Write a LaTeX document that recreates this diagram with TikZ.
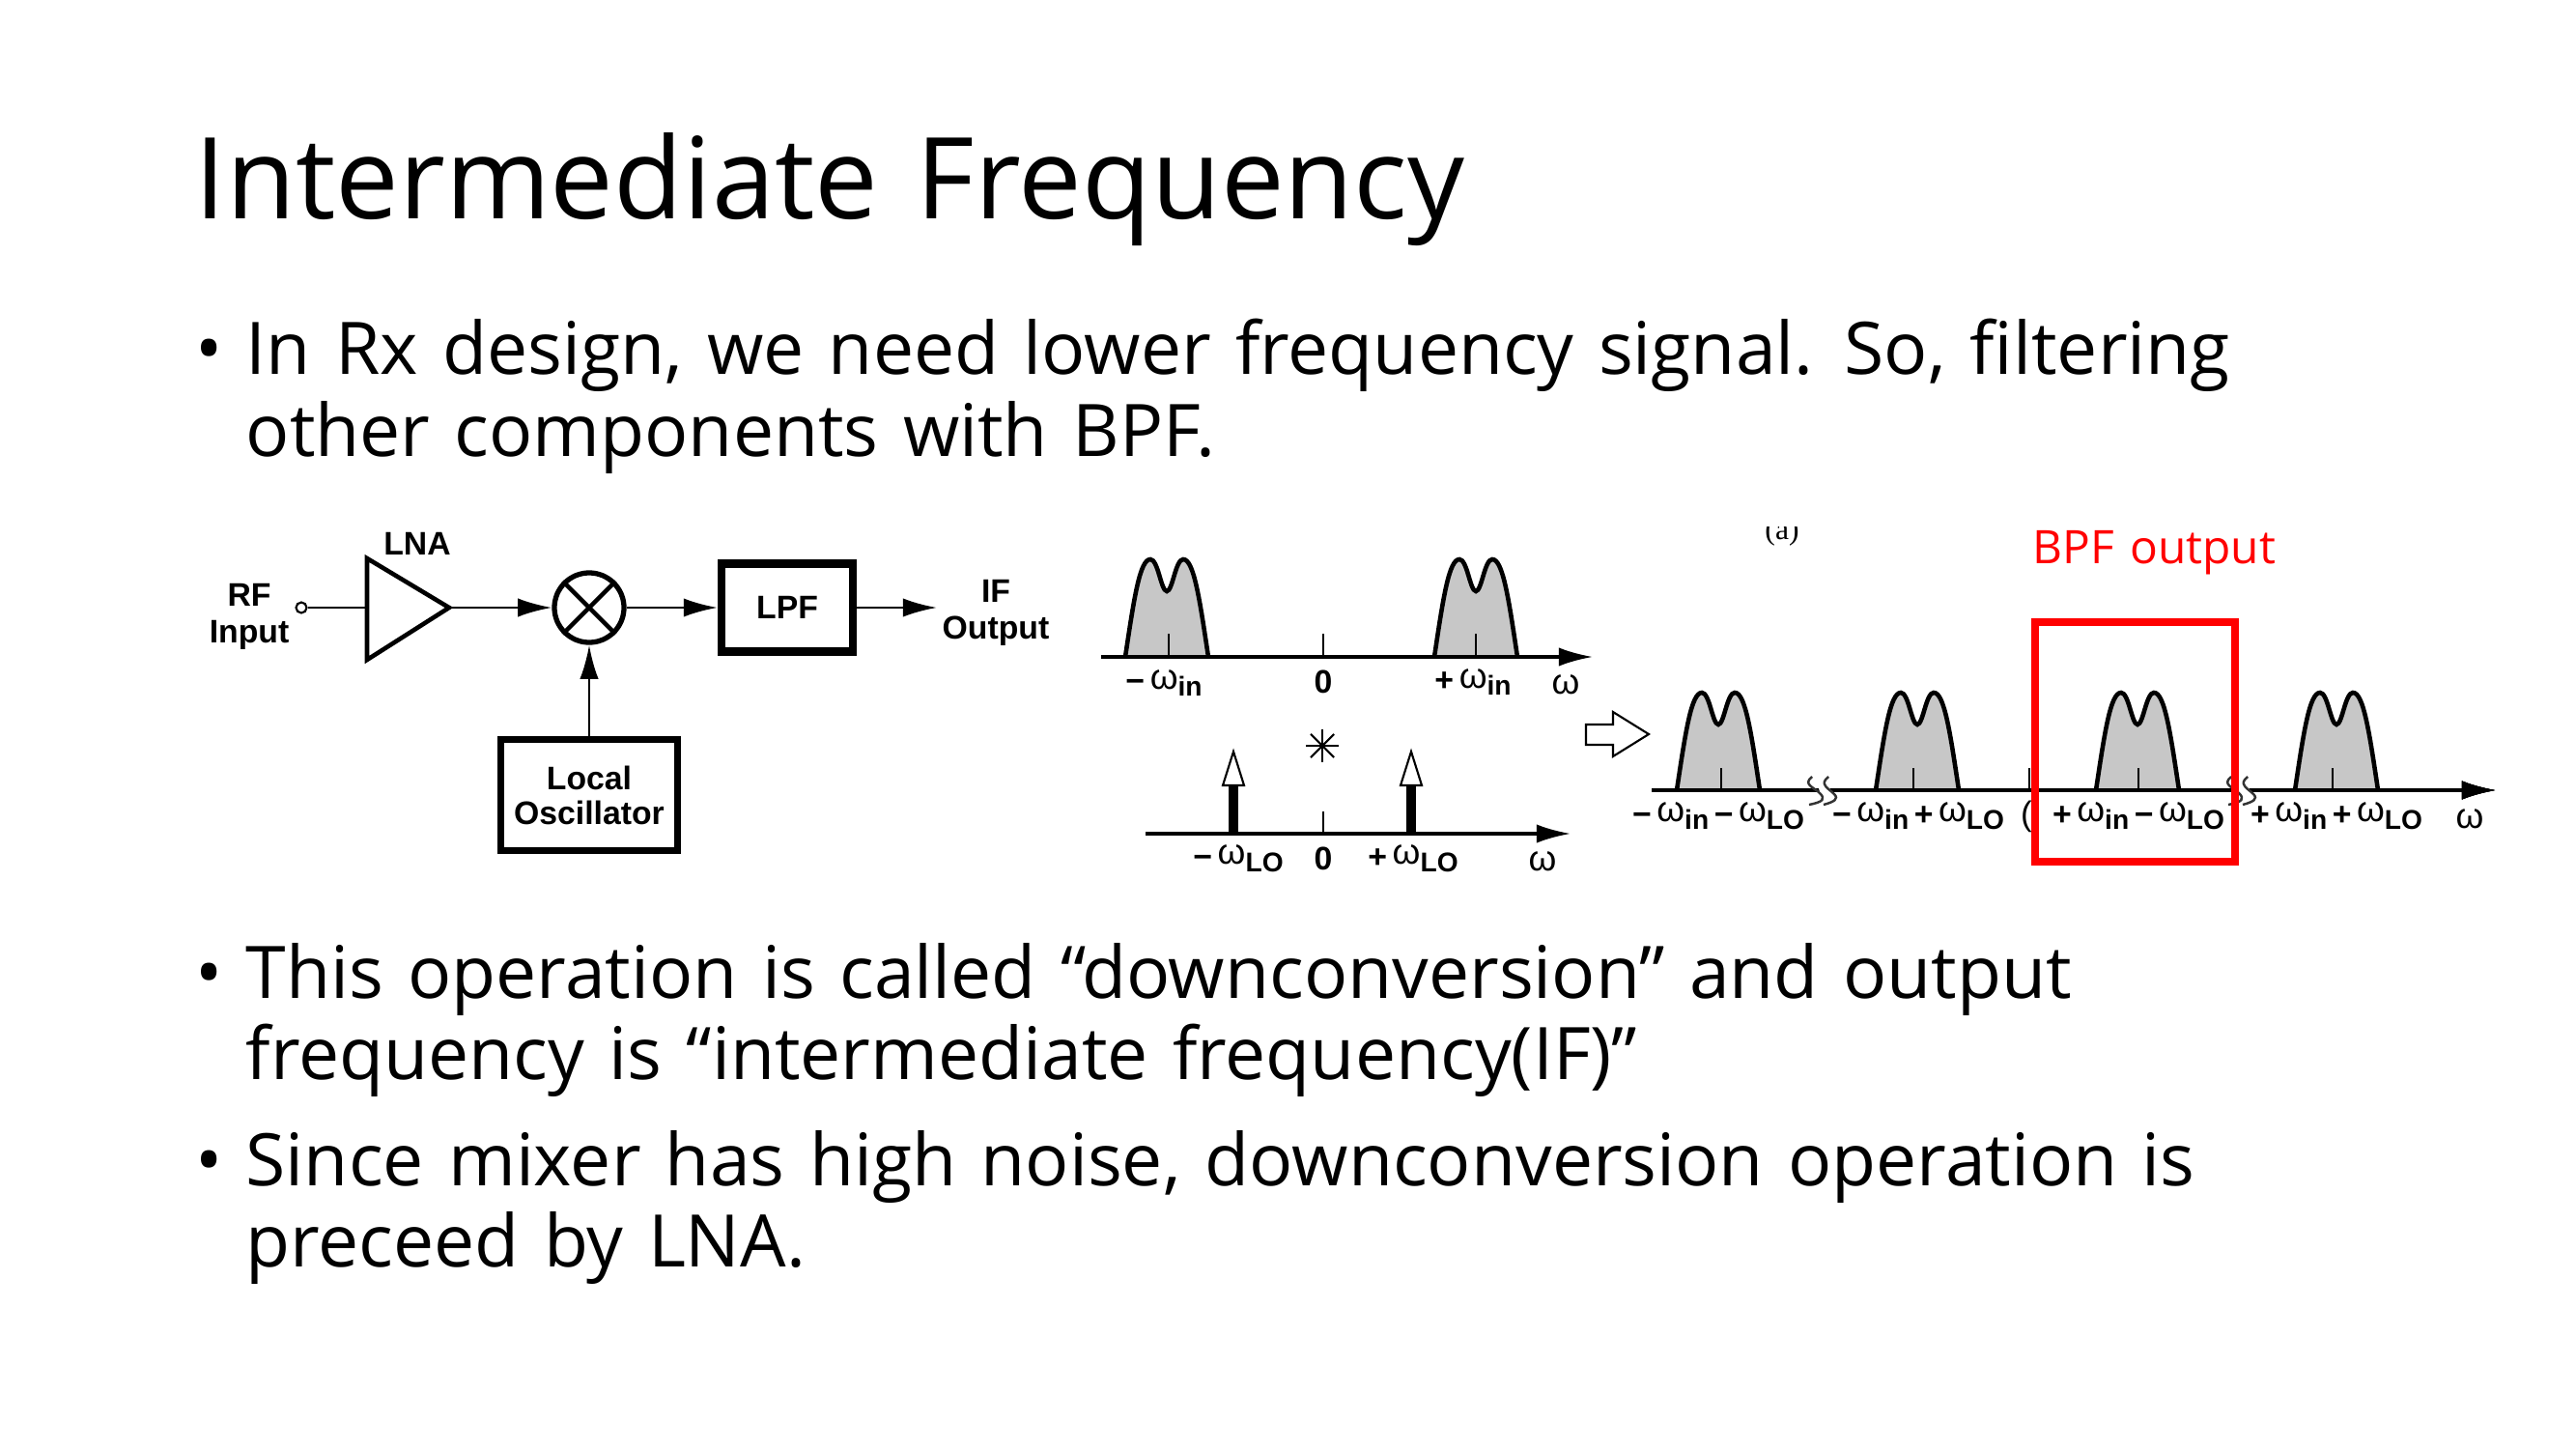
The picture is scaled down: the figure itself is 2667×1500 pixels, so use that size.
\documentclass[tikz,border=0pt]{standalone}
\usepackage{fontspec}
\usetikzlibrary{arrows.meta}
\setmainfont{Liberation Sans}
\newfontfamily\slidefont[WordSpace=1.3]{Open Sans}
\newfontfamily\capfont{Liberation Serif}
\newcommand{\om}{\raisebox{1pt}{\fontsize{10.5}{10.5}\selectfont\mdseries ω}}
\newcommand{\lowsub}[1]{\raisebox{-1.2pt}{\fontsize{8}{8}\selectfont #1}}
\newcommand{\spectrum}[2]{%
  \begin{scope}[shift={(#1,#2)}]
    \draw[specline,fill=specgray] (-43,0) .. controls (-34,-60) and (-28,-101) .. (-17,-101)
      .. controls (-9,-101) and (-6,-68) .. (0,-68) .. controls (6,-68) and (9,-101) .. (17,-101)
      .. controls (28,-101) and (34,-60) .. (43,0);
  \end{scope}}
\newcommand{\breakmark}[2]{%
  \begin{scope}[shift={(#1,#2)}]
    \fill[white] (-2,-6) -- (10,-6) -- (12,6) -- (1,6) -- cycle;
    \draw[breakline] (-8,-14) .. controls (-18,-6) and (-6,-3) .. (0,3) .. controls (6,9) and (4,12) .. (-11,15);
    \draw[breakline] (9,-14) .. controls (-1,-6) and (9,-2) .. (15,4) .. controls (20,9) and (15,12) .. (4,15);
  \end{scope}}
\definecolor{specgray}{gray}{0.78}
\tikzset{
  sigline/.style={line width=0.8pt},
  sigarrow/.style={line width=0.8pt,-{Latex[length=10pt,width=5.5pt]}},
  axisarrow/.style={line width=0.9pt,-{Latex[length=10pt,width=5.5pt]}},
  specline/.style={line width=1.3pt},
  tickline/.style={line width=0.6pt},
  breakline/.style={line width=0.7pt,black!80},
  lbl/.style={inner sep=0pt,font=\fontsize{9.6}{10.8}\selectfont\bfseries,align=center},
  heading/.style={inner sep=0pt,anchor=base west,font=\slidefont\fontsize{33.3}{33.3}\selectfont},
  bodyline/.style={inner sep=0pt,anchor=base west,font=\slidefont\fontsize{21.35}{21.35}\selectfont},
}
\begin{document}
\begin{tikzpicture}[x=0.01cm,y=-0.01cm]
  \useasboundingbox (0,0) rectangle (2667,1500);
  % slide text
  \node[heading] (title) at (201,226) {Intermediate Frequency};
  \node[bodyline] (bulA) at (202,387) {•};
  \node[bodyline] (lineA) at (254,387) {In Rx design, we need lower frequency signal. So, filtering};
  \node[bodyline] (lineB) at (254,472) {other components with BPF.};
  \node[bodyline] (bulB) at (202,1033) {•};
  \node[bodyline] (lineC) at (254,1033) {This operation is called “downconversion” and output};
  \node[bodyline] (lineD) at (254,1117) {frequency is “intermediate frequency(IF)”};
  \node[bodyline] (bulC) at (202,1227) {•};
  \node[bodyline] (lineE) at (254,1227) {Since mixer has high noise, downconversion operation is};
  \node[bodyline] (lineF) at (254,1311) {preceed by LNA.};

  % receiver chain
  \node[lbl] (rflabel) at (258,638) {RF\\Input};
  \node[lbl] (lnalabel) at (432,563) {LNA};
  \node[lbl] (iflabel) at (1031,634) {IF\\Output};
  \node[circle,draw,line width=0.6pt,minimum size=0.11cm,inner sep=0pt] (rfin) at (312,629) {};
  \coordinate (lnaT) at (380,578);
  \coordinate (lnaB) at (380,683);
  \coordinate (lnaI) at (380,629);
  \coordinate (lnaO) at (465,629);
  \draw[line width=1.3pt,line join=miter] (lnaT) -- (lnaO) -- (lnaB) -- cycle;
  \node[circle,draw,line width=1.5pt,minimum size=0.72cm,inner sep=0pt] (mix) at (610,629) {};
  \draw[line width=1.3pt] (mix.45) -- (mix.225) (mix.135) -- (mix.315);
  \node[draw,line width=2.3pt,minimum width=1.36cm,minimum height=0.91cm,inner sep=0pt,font=\fontsize{9.6}{10}\selectfont\bfseries] (lpf) at (815,629) {LPF};
  \node[draw,line width=2pt,minimum width=1.83cm,minimum height=1.14cm,inner sep=0pt,align=center,font=\fontsize{9.6}{10.2}\selectfont\bfseries] (lo) at (610,823) {Local\\Oscillator};
  \coordinate (ifout) at (970,629);
  \draw[sigline] (rfin) -- (lnaI);
  \draw[sigarrow] (lnaO) -- (mix);
  \draw[sigarrow] (mix) -- (lpf);
  \draw[sigarrow] (lpf) -- (ifout);
  \draw[sigarrow] (lo) -- (mix);

  % input spectrum
  \coordinate (axAl) at (1140,680);
  \coordinate (axAr) at (1649,680);
  \spectrum{1208}{680}
  \spectrum{1528}{680}
  \draw[axisarrow] (axAl) -- (axAr);
  \foreach \tx in {1210,1370,1528}
    \draw[tickline] (\tx,656) -- (\tx,680);
  \node[lbl] (inneg) at (1205,707) {−\,\om\lowsub{in}};
  \node[lbl] (zeroA) at (1370,706) {0};
  \node[lbl] (inpos) at (1525,706) {+\,\om\lowsub{in}};
  \node[lbl] (omA) at (1621,710) {\om};

  % convolution star
  \coordinate (conv) at (1369,772);
  \foreach \ang in {0,45,90,135}
    \draw[line width=0.6pt] (conv) ++(\ang:17) -- ++(\ang+180:34);

  % oscillator spectrum
  \coordinate (axBl) at (1186,863);
  \coordinate (axBr) at (1626,863);
  \draw[axisarrow] (axBl) -- (axBr);
  \draw[tickline] (1370,840) -- (1370,863);
  \foreach \tx in {1277,1461} {
    \draw[line width=2.6pt] (\tx,863) -- (\tx,813);
    \draw[line width=0.6pt,fill=white] (\tx-11,813) -- (\tx,778) -- (\tx+11,813) -- cycle;
  }
  \node[lbl] (loneg) at (1282,889) {−\,\om\lowsub{LO}};
  \node[lbl] (zeroB) at (1370,889) {0};
  \node[lbl] (lopos) at (1463,889) {+\,\om\lowsub{LO}};
  \node[lbl] (omB) at (1597,893) {\om};

  % result arrow
  \draw[line width=0.6pt,fill=white] (1642,750) -- (1670,750) -- (1670,737) -- (1707,760) -- (1670,783) -- (1670,771) -- (1642,771) -- cycle;

  % mixed spectrum
  \begin{scope}
    \clip (1800,545) rectangle (1890,580);
    \node[inner sep=0pt,anchor=base,font=\capfont\fontsize{9}{9}\selectfont] (alabel) at (1845,558) {(a)};
  \end{scope}
  \coordinate (axCl) at (1710,818);
  \coordinate (axCr) at (2584,818);
  \foreach \cx in {1779,1985,2213,2419}
    \spectrum{\cx}{818}
  \draw[axisarrow] (axCl) -- (axCr);
  \foreach \tx in {1782,1981,2101,2214,2415}
    \draw[tickline] (\tx,795) -- (\tx,818);
  \breakmark{1884}{818}
  \breakmark{2318}{818}
  \node[lbl] (mixA) at (1779,845) {−\,\om\lowsub{in}\,−\,\om\lowsub{LO}};
  \node[lbl] (mixB) at (1986,845) {−\,\om\lowsub{in}\,+\,\om\lowsub{LO}};
  \node[lbl,font=\fontsize{10}{10}\selectfont] (clipped) at (2098,845) {(};
  \node[lbl] (mixC) at (2214,845) {+\,\om\lowsub{in}\,−\,\om\lowsub{LO}};
  \node[lbl] (mixD) at (2419,845) {+\,\om\lowsub{in}\,+\,\om\lowsub{LO}};
  \node[lbl] (omC) at (2557,849) {\om};

  % band pass marker
  \node[draw=red,line width=2.3pt,minimum width=2.07cm,minimum height=2.48cm,inner sep=0pt] (bpfbox) at (2210.5,768) {};
  \node[inner sep=0pt,text=red,font=\slidefont\fontsize{13.6}{13.6}\selectfont,anchor=base west] (bpflabel) at (2104,583) {BPF output};
\end{tikzpicture}
\end{document}
